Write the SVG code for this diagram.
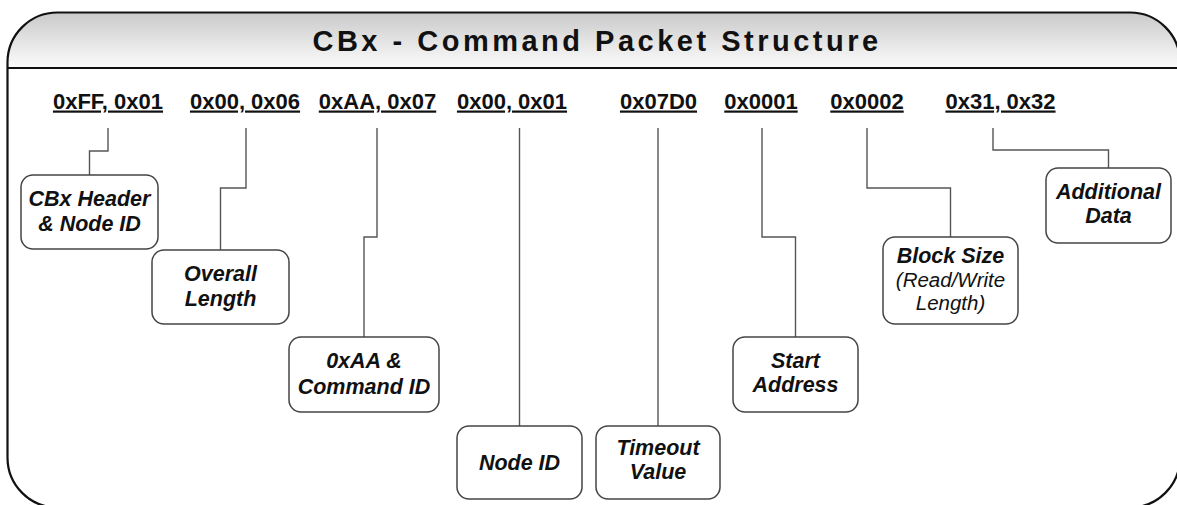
<svg xmlns="http://www.w3.org/2000/svg" width="1177" height="505" viewBox="0 0 1177 505">
  <defs>
    <linearGradient id="hdrFill" x1="0" y1="12" x2="0" y2="68" gradientUnits="userSpaceOnUse">
      <stop offset="0" stop-color="#c9c9c9"/>
      <stop offset="1" stop-color="#fcfcfc"/>
    </linearGradient>
    <style>
      .frame { fill: none; stroke: #111; stroke-width: 2.2; }
      .rule { stroke: #111; stroke-width: 2.2; fill: none; }
      .title { font-family: "Liberation Sans", Arial, sans-serif; font-weight: bold; font-size: 29px; letter-spacing: 3.5px; fill: #111; text-anchor: middle; }
      .hex { font-family: "Liberation Sans", Arial, sans-serif; font-weight: bold; font-size: 22px; fill: #111; text-anchor: middle; text-decoration: underline; }
      .box { fill: #fff; stroke: #444; stroke-width: 1.5; }
      .lbl { font-family: "Liberation Sans", Arial, sans-serif; font-weight: bold; font-style: italic; font-size: 21.5px; fill: #111; text-anchor: middle; }
      .sub { font-weight: normal; font-size: 20.5px; }
      .wire { fill: none; stroke: #555; stroke-width: 1.4; }
    </style>
  </defs>

  <!-- header band -->
  <path d="M7.5,68 V62.5 A50,50 0 0 1 57.5,12.5 H1130 A50,50 0 0 1 1180,62.5 V68 Z" fill="url(#hdrFill)"/>
  <rect class="frame" x="7.5" y="12.5" width="1172.5" height="495" rx="50" ry="50"/>
  <line class="rule" x1="7.5" y1="68" x2="1180" y2="68"/>
  <text class="title" x="597" y="51">CBx - Command Packet Structure</text>

  <!-- byte values -->
  <g id="values">
    <text class="hex" x="108" y="108.5">0xFF, 0x01</text>
    <text class="hex" x="245" y="108.5">0x00, 0x06</text>
    <text class="hex" x="377.5" y="108.5">0xAA, 0x07</text>
    <text class="hex" x="512" y="108.5">0x00, 0x01</text>
    <text class="hex" x="658.5" y="108.5">0x07D0</text>
    <text class="hex" x="761" y="108.5">0x0001</text>
    <text class="hex" x="867" y="108.5">0x0002</text>
    <text class="hex" x="1000.5" y="108.5">0x31, 0x32</text>
  </g>

  <!-- leader lines -->
  <g id="connectors">
    <path class="wire" d="M108,128 V151 H89.5 V175"/>
    <path class="wire" d="M246,128 V188 H220.5 V250"/>
    <path class="wire" d="M377,128 V237 H364 V337"/>
    <path class="wire" d="M519.5,128 V426"/>
    <path class="wire" d="M658,128 V426"/>
    <path class="wire" d="M762,128 V237 H795.5 V337"/>
    <path class="wire" d="M867,128 V188 H950.5 V237"/>
    <path class="wire" d="M993,128 V150 H1108.5 V168"/>
  </g>

  <g id="header-node">
    <rect class="box" x="21" y="175" width="137" height="74" rx="12"/>
    <text class="lbl" x="89.5" y="206">CBx Header</text>
    <text class="lbl" x="89.5" y="231">&amp; Node ID</text>
  </g>

  <g id="overall-length">
    <rect class="box" x="152" y="250" width="137" height="74" rx="12"/>
    <text class="lbl" x="220.5" y="281">Overall</text>
    <text class="lbl" x="220.5" y="306">Length</text>
  </g>

  <g id="command-id">
    <rect class="box" x="289" y="337" width="150" height="75" rx="12"/>
    <text class="lbl" x="364" y="368">0xAA &amp;</text>
    <text class="lbl" x="364" y="394">Command ID</text>
  </g>

  <g id="node-id">
    <rect class="box" x="457" y="426" width="125" height="73" rx="12"/>
    <text class="lbl" x="519.5" y="470">Node ID</text>
  </g>

  <g id="timeout">
    <rect class="box" x="596" y="426" width="124" height="73" rx="12"/>
    <text class="lbl" x="658" y="455">Timeout</text>
    <text class="lbl" x="658" y="479">Value</text>
  </g>

  <g id="start-address">
    <rect class="box" x="733" y="337" width="125" height="75" rx="12"/>
    <text class="lbl" x="795.5" y="368">Start</text>
    <text class="lbl" x="795.5" y="392">Address</text>
  </g>

  <g id="block-size">
    <rect class="box" x="883" y="237" width="135" height="87" rx="12"/>
    <text class="lbl" x="950.5" y="263">Block Size</text>
    <text class="lbl sub" x="950.5" y="287">(Read/Write</text>
    <text class="lbl sub" x="950.5" y="310">Length)</text>
  </g>

  <g id="additional-data">
    <rect class="box" x="1046" y="168" width="125" height="75" rx="12"/>
    <text class="lbl" x="1108.5" y="199">Additional</text>
    <text class="lbl" x="1108.5" y="223">Data</text>
  </g>
</svg>
